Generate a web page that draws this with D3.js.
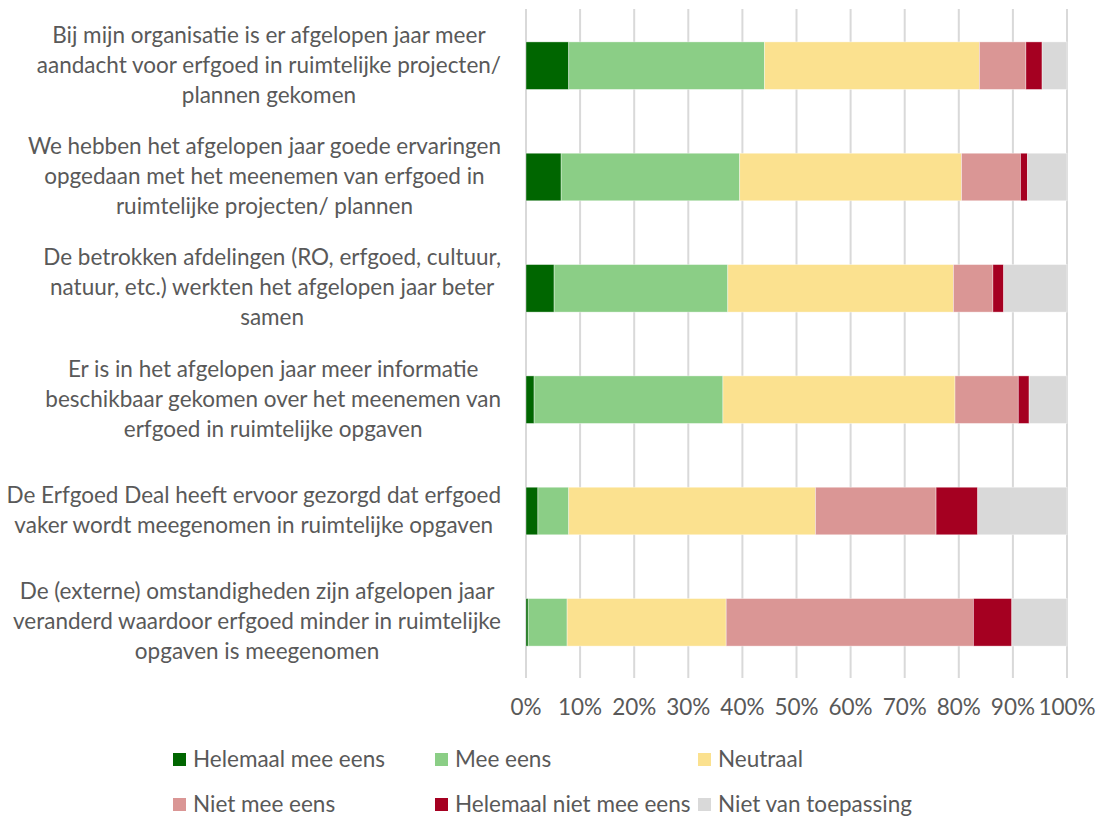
<!DOCTYPE html>
<html>
<head>
<meta charset="utf-8">
<script src="https://cdn.jsdelivr.net/npm/d3@7"></script>
<style>
  body { margin: 0; background: #fff; }
  svg text { font-family: Lato, "Open Sans", sans-serif; fill: #595959; }
</style>
</head>
<body>
<div id="chart"></div>
<script>
// data
const categories = [
  ["Bij mijn organisatie is er afgelopen jaar meer", "aandacht voor erfgoed in ruimtelijke projecten/", "plannen gekomen"],
  ["We hebben het afgelopen jaar goede ervaringen", "opgedaan met het meenemen van erfgoed in", "ruimtelijke projecten/ plannen"],
  ["De betrokken afdelingen (RO, erfgoed, cultuur,", "natuur, etc.) werkten het afgelopen jaar beter", "samen"],
  ["Er is in het afgelopen jaar meer informatie", "beschikbaar gekomen over het meenemen van", "erfgoed in ruimtelijke opgaven"],
  ["De Erfgoed Deal heeft ervoor gezorgd dat erfgoed", "vaker wordt meegenomen in ruimtelijke opgaven"],
  ["De (externe) omstandigheden zijn afgelopen jaar", "veranderd waardoor erfgoed minder in ruimtelijke", "opgaven is meegenomen"]
];
const seriesNames = ["Helemaal mee eens", "Mee eens", "Neutraal", "Niet mee eens", "Helemaal niet mee eens", "Niet van toepassing"];
const colors = ["#006600", "#8bce86", "#fbe18f", "#da9695", "#a50021", "#d9d9d9"];

const helemaalMeeEens  = [7.9, 6.5, 5.2, 1.5, 2.2, 0.4];
const meeEens          = [36.2, 33.0, 32.1, 34.9, 5.7, 7.2];
const neutraal         = [39.7, 41.0, 41.7, 42.9, 45.6, 29.4];
const nietMeeEens      = [8.6, 10.9, 7.3, 11.7, 22.3, 45.7];
const helemaalNiet     = [3.0, 1.3, 2.0, 2.0, 7.7, 7.1];
const nietVanToepassing= [4.6, 7.3, 11.7, 7.0, 16.5, 10.2];
const tickValues = [0, 0.1, 0.2, 0.3, 0.4, 0.5, 0.6, 0.7, 0.8, 0.9, 1];

const width = 1099, height = 816;
const plot = {left: 526, right: 1067, top: 9, bottom: 678};
const fontSize = "22.5px";

const svg = d3.select("#chart").append("svg")
  .attr("width", width)
  .attr("height", height);

// build rows, normalised to 100%
const allSeries = [helemaalMeeEens, meeEens, neutraal, nietMeeEens, helemaalNiet, nietVanToepassing];
let rows = categories.map(function(c, i) {
  let row = {idx: i};
  let total = d3.sum(allSeries, function(s) { return s[i]; });
  seriesNames.forEach(function(name, j) { row[name] = allSeries[j][i] / total; });
  return row;
});

let x = d3.scaleLinear().domain([0, 1]).range([plot.left, plot.right]);
let y = d3.scaleBand()
  .domain(rows.map(function(d) { return d.idx; }))
  .range([plot.top + 1, plot.bottom])
  .paddingInner(0.573)
  .paddingOuter(0.2865);

// gridlines
svg.append("g").selectAll("line")
  .data(tickValues)
  .enter().append("line")
  .attr("x1", function(d) { return x(d); })
  .attr("x2", function(d) { return x(d); })
  .attr("y1", plot.top)
  .attr("y2", plot.bottom)
  .attr("stroke", "#d9d9d9")
  .attr("stroke-width", 2);

// stacked bars
let stack = d3.stack().keys(seriesNames)(rows);
svg.append("g").selectAll("g")
  .data(stack)
  .enter().append("g")
  .attr("fill", function(d, i) { return colors[i]; })
  .selectAll("rect")
  .data(function(d) { return d; })
  .enter().append("rect")
  .attr("x", function(d) { return x(d[0]); })
  .attr("y", function(d) { return y(d.data.idx); })
  .attr("width", function(d) { return x(d[1]) - x(d[0]); })
  .attr("height", y.bandwidth())
  .attr("stroke", "#ffffff")
  .attr("stroke-opacity", 0.5)
  .attr("stroke-width", 0.75);

// x tick labels
svg.append("g").selectAll("text")
  .data(tickValues)
  .enter().append("text")
  .attr("x", function(d) { return x(d); })
  .attr("y", 715)
  .attr("text-anchor", "middle")
  .style("font-size", fontSize)
  .text(function(d) { return Math.round(d * 100) + "%"; });

// category labels (centered lines, block right-aligned)
const lineHeight = 30, labelRight = 501;
let labels = svg.append("g").selectAll("g")
  .data(categories)
  .enter().append("g");

labels.each(function(lines, i) {
  let g = d3.select(this);
  let cy = y(i) + y.bandwidth() / 2;
  let texts = g.selectAll("text").data(lines).enter().append("text")
    .attr("y", function(d, k) { return cy + (k - (lines.length - 1) / 2) * lineHeight + 7; })
    .attr("text-anchor", "middle")
    .style("font-size", fontSize)
    .text(function(d) { return d; });
  let maxW = 0;
  texts.each(function() { maxW = Math.max(maxW, this.getComputedTextLength()); });
  texts.attr("x", labelRight - maxW / 2);
});

// legend
const legendCols = [173, 435, 698], legendRows = [753, 798];
let legend = svg.append("g").selectAll("g")
  .data(seriesNames)
  .enter().append("g")
  .attr("transform", function(d, i) {
    return `translate(${legendCols[i % 3]}, ${legendRows[Math.floor(i / 3)]})`;
  });

legend.append("rect")
  .attr("width", 13)
  .attr("height", 13)
  .attr("fill", function(d, i) { return colors[i]; });

legend.append("text")
  .attr("x", 20)
  .attr("y", 13.5)
  .style("font-size", fontSize)
  .text(function(d) { return d; });
</script>
</body>
</html>
